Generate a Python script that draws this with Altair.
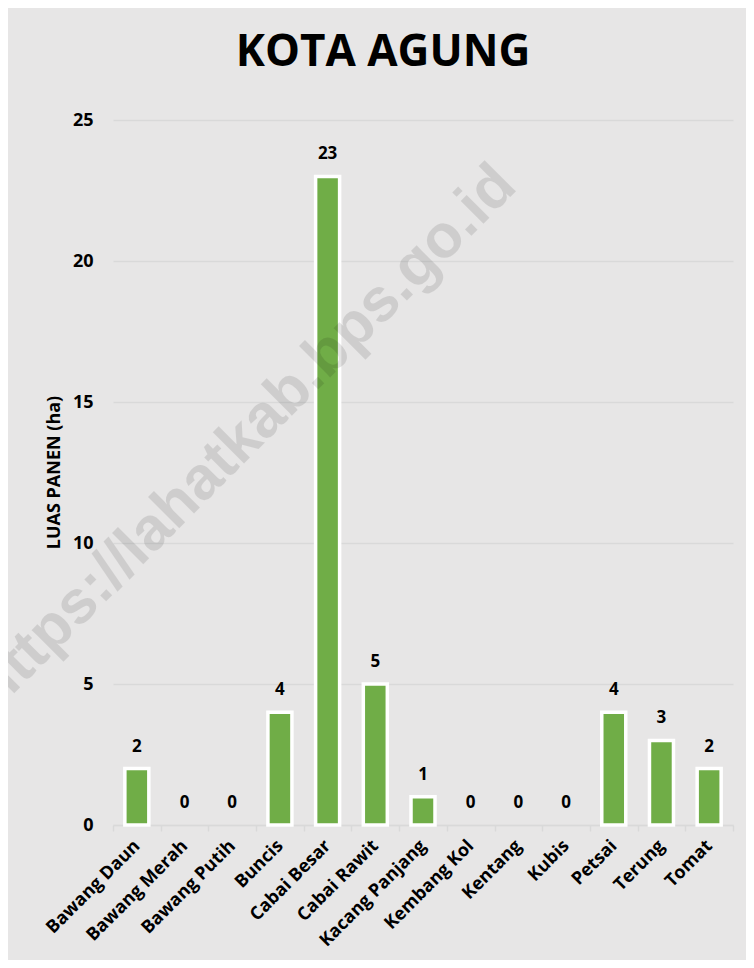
import altair as alt
import pandas as pd

categories = ["Bawang Daun", "Bawang Merah", "Bawang Putih", "Buncis", "Cabai Besar",
              "Cabai Rawit", "Kacang Panjang", "Kembang Kol", "Kentang", "Kubis",
              "Petsai", "Terung", "Tomat"]
values = [2, 0, 0, 4, 23, 5, 1, 0, 0, 0, 4, 3, 2]
y_ticks = [0, 5, 10, 15, 20, 25]
title_text = "KOTA AGUNG"
y_title = "LUAS PANEN (ha)"
watermark = ["https://lahatkab.bps.go.id"]

df = pd.DataFrame({"cat": categories, "val": values})
wm = pd.DataFrame({"t": watermark})

BG = "#E7E6E6"
GRID = "#D9D9D9"
GREEN = "#70AD47"

x = alt.X("cat:N", sort=categories, title=None,
          scale=alt.Scale(paddingInner=0, paddingOuter=0),
          axis=alt.Axis(labelAngle=-45, labelAlign="right", labelBaseline="middle",
                        labelFont="Open Sans", labelFontWeight="bold", labelFontSize=18,
                        labelColor="#000000", labelPadding=12,
                        domainColor=GRID, domainWidth=1.5, tickColor=GRID, tickWidth=1.5,
                        tickSize=6, tickBand="extent", grid=False))
y = alt.Y("val:Q", title=y_title,
          scale=alt.Scale(domain=[0, 25], nice=False),
          axis=alt.Axis(values=y_ticks, grid=True, gridColor=GRID, gridWidth=1.5,
                        domain=False, ticks=False, labelPadding=20,
                        labelFont="Open Sans", labelFontWeight="bold", labelFontSize=18,
                        labelColor="#000000",
                        titleFont="Open Sans", titleFontWeight="bold", titleFontSize=18,
                        titleColor="#000000", titleAngle=270, titleX=-59, titleY=352,
                        titleAlign="center", titleBaseline="middle"))

base = alt.Chart(df).encode(x=x, y=y)

bars = base.transform_filter(alt.datum.val > 0).mark_bar(
    size=24, color=GREEN, stroke="#FFFFFF", strokeWidth=3.5)

labels = base.mark_text(font="Open Sans", fontWeight="bold", fontSize=17,
                        color="#000000", baseline="alphabetic", dy=-17).encode(
    text=alt.Text("val:Q"))

wmark = alt.Chart(wm).mark_text(font="Liberation Sans", fontWeight="bold", fontSize=61,
                                color="#000000", opacity=0.1, angle=315,
                                align="center", baseline="middle").encode(
    x=alt.value(132), y=alt.value(317), text="t:N")

chart = alt.layer(bars, labels, wmark).properties(
    width=620, height=705,
    title=alt.TitleParams(title_text, font="Open Sans", fontWeight="bold", fontSize=44,
                          color="#000000", anchor="middle", dx=-40, offset=36),
    background=BG,
    padding={"left": 105, "top": 112, "right": 13, "bottom": 135},
    autosize=alt.AutoSizeParams(type="none"),
).configure_view(stroke=None)

chart.save("out.html", embed_options={"renderer": "svg", "actions": False})
